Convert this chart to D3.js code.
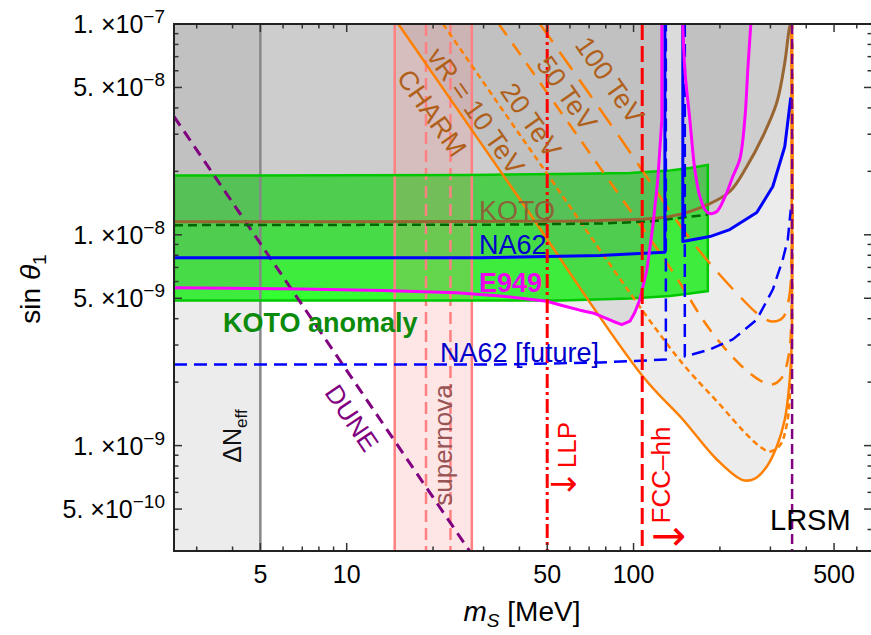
<!DOCTYPE html>
<html lang="en">
<head>
<meta charset="UTF-8"/>
<title>sin theta1 vs mS limits</title>
<script src="https://d3js.org/d3.v7.min.js"></script>
<style>
  body { margin: 0; background: white; }
  svg { display: block; font-family: "Liberation Sans", Arial, sans-serif; }
</style>
</head>
<body>
<script>
// ---- data: points are [m_S (MeV), sin theta_1] ----
var kotoLine = [[2.5,1.153e-8],[26.9,1.157e-8],[76.3,1.169e-8],[133.8,1.221e-8],[181.5,1.392e-8],[216.6,1.605e-8],
                [248.2,2.109e-8],[282.2,2.926e-8],[315.7,4.24e-8],[336.7,6.57e-8],[350.4,9.73e-8],[354,1e-7]];
var kotoFuture = [[2.5,1.111e-8],[34.2,1.117e-8],[76.3,1.131e-8],[114,1.156e-8],[181.5,1.248e-8]];
var na62Low = [[2.5,7.78e-9],[29.1,7.78e-9],[76.3,7.98e-9],[128.6,8.27e-9],[128.6,1e-7]];
var na62High = [[148.5,1e-7],[148.5,9.29e-9],[184.5,9.81e-9],[216.6,1.059e-8],[268.9,1.275e-8],[305.8,1.694e-8],
                [336.7,2.623e-8],[353.2,4.48e-8]];
var na62FutLow = [[2.5,2.425e-9],[34.2,2.425e-9],[76.3,2.48e-9],[129.6,2.56e-9],[129.6,1e-7]];
var na62FutHigh = [[150.9,1e-7],[150.9,2.645e-9],[184.5,2.857e-9],[221.8,3.19e-9],[268.9,3.96e-9],[305.8,5.50e-9],
                   [331.3,7.64e-9],[344.9,9.50e-9],[353.2,1.318e-8]];
var e949Low = [[2.5,5.61e-9],[6.88,5.53e-9],[13.38,5.44e-9],[24.2,5.31e-9],[34.2,5.13e-9],[49.9,4.84e-9],[56.3,4.62e-9],
               [65.0,4.39e-9],[73.3,4.23e-9],[84.7,3.89e-9],[91.0,3.75e-9],[97.1,3.89e-9],[101,4.28e-9],[105.2,4.93e-9],
               [111.3,6.84e-9],[116.7,1.095e-8],[121.5,1.83e-8],[125.5,3.52e-8],[125.5,1e-7]];
var e949High = [[148.5,1e-7],[150.9,6.08e-8],[157.1,3.52e-8],[163.5,2.04e-8],[170.2,1.52e-8],[177.2,1.318e-8],
                [184.5,1.262e-8],[195.1,1.29e-8],[211.4,1.587e-8],[221.8,1.89e-8],[234.6,2.28e-8],[244.2,3.52e-8],
                [250.2,6.08e-8],[256.3,1e-7]];
var bandTop = [[2.5,1.911e-8],[26.9,1.921e-8],[55.4,1.942e-8],[97.1,1.963e-8],[133.8,2.018e-8],[157.1,2.074e-8],[181.5,2.143e-8]];
var bandBottom = [[2.5,4.88e-9],[55.4,4.88e-9],[97.1,4.99e-9],[133.8,5.13e-9],[157.1,5.27e-9],[181.5,5.41e-9]];
var vr10 = [[15.13,1e-7],[40.2,1.47e-8],[107.8,2.127e-9],[148.5,1.33e-9],[195.1,8.59e-10],[240.3,6.86e-10],[264.7,6.98e-10],
            [291.4,7.96e-10],[315.7,9.90e-10],[336.7,1.33e-9],[350.4,2.06e-9],[356.1,3.19e-9],[356.1,6.62e-9],[354.6,1e-7]];
var vr20 = [[21.66,1e-7],[46.4,2.25e-8],[141.5,2.647e-9],[199.8,1.567e-9],[244.2,1.154e-9],[275.5,9.90e-10],[298.5,9.38e-10],
            [323.5,1.001e-9],[342.1,1.259e-9],[353.2,2.06e-9],[357.5,4.93e-9],[357.5,1e-7]];
var vr50 = [[33.9,1e-7],[72.1,2.326e-8],[136,6.77e-9],[184.5,3.55e-9],[234.6,2.43e-9],[275.5,2.04e-9],[303.4,1.95e-9],
            [328.7,2.10e-9],[347.6,2.70e-9],[356.1,4.93e-9],[356.1,1e-7]];
var vr100 = [[47.2,1e-7],[89.6,2.894e-8],[160.9,9.19e-9],[234.6,5.10e-9],[275.5,4.14e-9],[303.4,3.88e-9],[331.3,4.05e-9],
             [347.6,4.93e-9],[356.1,8.51e-9],[356.1,1e-7]];
var dune = [[2.5,3.64e-8],[26.9,3.14e-10]];
var neffMass = 5;
var snEdges = [14.7, 27.3];
var snInner = [18.9, 23.0];
var llpMass = 50;
var fccMass = 107.2;
var lrsmMass = 357;

var xMajor = [5, 10, 50, 100, 500];
var xMinor = [3, 4, 6, 7, 8, 9, 20, 30, 40, 60, 70, 80, 90, 200, 300, 400, 600];
var yMajor = [1e-7, 5e-8, 1e-8, 5e-9, 1e-9, 5e-10];
var yMant = ["1.", "5.", "1.", "5.", "1.", "5."];
var yExp = ["\u22127", "\u22128", "\u22128", "\u22129", "\u22129", "\u221210"];
var yMinor = [9e-8, 8e-8, 7e-8, 6e-8, 4e-8, 3e-8, 2e-8, 9e-9, 8e-9, 7e-9, 6e-9, 4e-9, 3e-9, 2e-9,
              9e-10, 8e-10, 7e-10, 6e-10, 4e-10];

// ---- layout ----
var w = 871, h = 635;
var L = 174, R = 872, T = 24, B = 551;

var svg = d3.select("body").append("svg").attr("width", w).attr("height", h);

var x = d3.scaleLog().domain([2.5, 678]).range([L, R]);
var y = d3.scaleLog().domain([Math.pow(10, -9.5), 1e-7]).range([B, T]);

var line = d3.line().x(function(d){ return x(d[0]); }).y(function(d){ return y(d[1]); });
var smooth = d3.line().x(function(d){ return x(d[0]); }).y(function(d){ return y(d[1]); })
               .curve(d3.curveCatmullRom.alpha(0.5));

svg.append("clipPath").attr("id", "clip").append("rect")
   .attr("x", L).attr("y", T).attr("width", R - L).attr("height", B - T);
var plot = svg.append("g").attr("clip-path", "url(#clip)");

// KOTO anomaly band
plot.append("path")
    .attr("d", line(bandTop.concat(bandBottom.slice().reverse())) + "Z")
    .attr("fill", "#00ff00").attr("fill-opacity", 0.8).attr("stroke", "none");

// excluded regions: translucent gray, overlaps get darker
function corner(m){ return "L" + x(m) + "," + y(1e-7); }
var shades = [
  "M" + x(2.5) + "," + y(Math.pow(10,-9.5)) + "H" + x(neffMass) + "V" + y(1e-7) + "H" + x(2.5) + "Z",
  smooth(kotoLine) + corner(2.5) + "Z",
  line(na62Low) + corner(2.5) + "Z",
  line(na62High) + corner(353.2) + "Z",
  line(e949Low) + corner(2.5) + "Z",
  smooth(e949High) + "Z",
  smooth(vr10) + "Z"
];
plot.selectAll("path.shade").data(shades).enter().append("path")
    .attr("class", "shade").attr("d", function(d){ return d; })
    .attr("fill", "rgb(128,128,128)").attr("fill-opacity", 0.15);

// supernova band
plot.append("rect")
    .attr("x", x(snEdges[0])).attr("width", x(snEdges[1]) - x(snEdges[0]))
    .attr("y", T).attr("height", B - T)
    .attr("fill", "#ff8080").attr("fill-opacity", 0.2);

function vline(m, color, width, dash){
  plot.append("line").attr("x1", x(m)).attr("x2", x(m)).attr("y1", T).attr("y2", B)
      .attr("stroke", color).attr("stroke-width", width).attr("stroke-dasharray", dash || null);
}
function curve(pts, gen, color, width, dash){
  plot.append("path").attr("d", gen(pts)).attr("fill", "none")
      .attr("stroke", color).attr("stroke-width", width)
      .attr("stroke-dasharray", dash || null).attr("stroke-linejoin", "round");
}

vline(neffMass, "#888888", 2.5);
snEdges.forEach(function(m){ vline(m, "#ff8080", 2.5); });
snInner.forEach(function(m){ vline(m, "#ff8080", 2.5, "12,6"); });

plot.append("path")
    .attr("d", line(bandTop.concat(bandBottom.slice().reverse())) + "Z")
    .attr("fill", "none").attr("stroke", "#00c800").attr("stroke-width", 2.5);

curve(vr10, smooth, "#ff8000", 2.5);
curve(vr20, smooth, "#ff8000", 2.5, "6,4");
curve(vr50, smooth, "#ff8000", 2.5, "14,10");
curve(vr100, smooth, "#ff8000", 2.5, "22,12");

curve(dune, line, "#800080", 3, "11,7");
curve(kotoLine, smooth, "#996633", 3);
curve(kotoFuture, line, "#006600", 2.5, "9,5");
curve(na62Low, line, "#0000ff", 3);
curve(na62High, line, "#0000ff", 3);
curve(na62FutLow, line, "#0000ff", 2.5, "13,7");
curve(na62FutHigh, line, "#0000ff", 2.5, "13,7");
curve(e949Low, line, "#ff00ff", 3);
curve(e949High, smooth, "#ff00ff", 3);

vline(llpMass, "#ff0000", 3, "14,4,3,4");
vline(fccMass, "#ff0000", 3, "16,6");
vline(lrsmMass, "#800080", 2.5, "10,5");

// ---- labels ----
function label(txt, px, py, opts){
  var t = svg.append("text").attr("x", px).attr("y", py).text(txt)
      .attr("font-size", opts.size || 27).attr("fill", opts.color || "#000");
  if (opts.bold) t.attr("font-weight", "bold");
  if (opts.family) t.attr("font-family", opts.family);
  if (opts.rot !== undefined) {
    t.attr("x", 0).attr("y", 0).attr("dy", "0.35em").attr("text-anchor", "middle")
     .attr("transform", "translate(" + px + "," + py + ") rotate(" + opts.rot + ")");
  }
  return t;
}

label("KOTO", 479, 220, {color: "#8c6239"});
label("NA62", 479, 254, {color: "#0000cc"});
label("E949", 479, 292, {color: "#ee00ee", bold: true});
label("KOTO anomaly", 223, 332, {color: "#0b8a0b", bold: true});
label("NA62 [future]", 440, 362, {color: "#0000cc"});
label("LRSM", 770, 530, {size: 29});

label("CHARM", 432, 113, {color: "#b0601a", rot: 55});
label("vR = 10 TeV", 476, 111, {color: "#b0601a", rot: 55});
label("20 TeV", 531, 120, {color: "#b0601a", rot: 55});
label("50 TeV", 567, 93, {color: "#b0601a", rot: 55});
label("100 TeV", 610, 80, {color: "#b0601a", rot: 55});
label("DUNE", 352, 418, {color: "#800080", rot: 56, size: 26});

label("supernova", 443, 445, {color: "#995555", rot: -90, size: 26});
label("LLP", 567, 445, {color: "#ff0000", rot: -90, size: 26});
label("\u2192", 549, 495, {color: "#ff0000", size: 34, family: "DejaVu Sans"});
label("FCC\u2013hh", 661, 475, {color: "#ff0000", rot: -90, size: 26});
label("\u2192", 651, 550, {color: "#ff0000", size: 42, family: "DejaVu Sans"});

var neff = svg.append("text").attr("transform", "translate(232,436) rotate(-90)")
    .attr("text-anchor", "middle").attr("dy", "0.35em").attr("font-size", 25).attr("fill", "#111");
neff.append("tspan").text("\u0394N");
neff.append("tspan").attr("font-size", 17).attr("dy", 6).text("eff");

// ---- frame and ticks ----
var ax = svg.append("g").attr("stroke", "#333").attr("stroke-width", 1.5);
xMajor.concat(xMinor).forEach(function(m){
  var len = xMajor.indexOf(m) >= 0 ? 8 : 4.5;
  ax.append("line").attr("x1", x(m)).attr("x2", x(m)).attr("y1", B).attr("y2", B - len);
  ax.append("line").attr("x1", x(m)).attr("x2", x(m)).attr("y1", T).attr("y2", T + len);
});
yMajor.concat(yMinor).forEach(function(s){
  var len = yMajor.indexOf(s) >= 0 ? 8 : 4.5;
  ax.append("line").attr("x1", L).attr("x2", L + len).attr("y1", y(s)).attr("y2", y(s));
  ax.append("line").attr("x1", R).attr("x2", R - len).attr("y1", y(s)).attr("y2", y(s));
});
svg.append("rect").attr("x", L).attr("y", T).attr("width", R - L).attr("height", B - T)
   .attr("fill", "none").attr("stroke", "#222").attr("stroke-width", 2);

svg.selectAll("text.xt").data(xMajor).enter().append("text").attr("class", "xt")
   .attr("x", function(d){ return x(d); }).attr("y", 583)
   .attr("text-anchor", "middle").attr("font-size", 25).text(function(d){ return d; });

yMajor.forEach(function(s, i){
  var t = svg.append("text").attr("x", 165).attr("y", y(s) + 9)
     .attr("text-anchor", "end").attr("font-size", 25);
  t.append("tspan").text(yMant[i] + " \u00d710");
  t.append("tspan").attr("font-size", 19).attr("dy", -10).text(yExp[i]);
});

var xl = svg.append("text").attr("x", 522).attr("y", 621).attr("text-anchor", "middle").attr("font-size", 28);
xl.append("tspan").attr("font-style", "italic").text("m");
xl.append("tspan").attr("font-style", "italic").attr("font-size", 19).attr("dy", 6).text("S");
xl.append("tspan").attr("dy", -6).text(" [MeV]");

var yl = svg.append("text").attr("transform", "translate(40,289) rotate(-90)")
   .attr("text-anchor", "middle").attr("font-size", 28);
yl.append("tspan").text("sin ");
yl.append("tspan").attr("font-style", "italic").text("\u03b8");
yl.append("tspan").attr("font-size", 19).attr("dy", 6).text("1");
</script>
</body>
</html>
